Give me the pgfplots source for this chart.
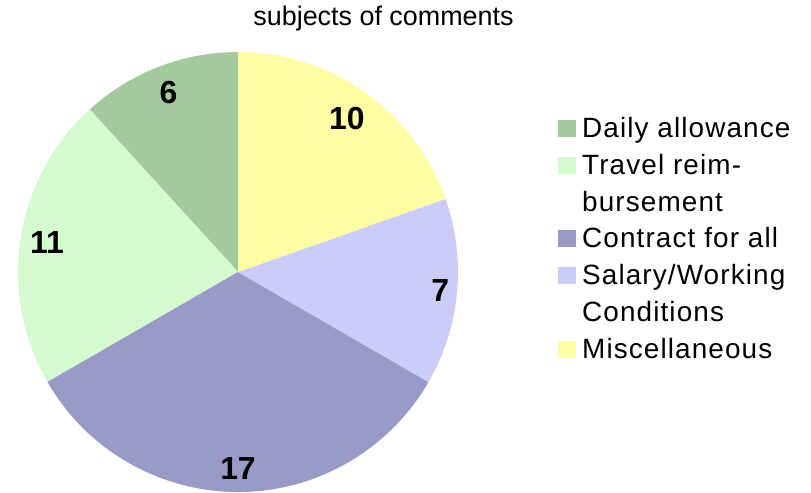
\documentclass[border=0pt]{standalone}
\usepackage{pgfplots}
\pgfplotsset{compat=1.18}
\usepackage{fontspec}
\setmainfont{Liberation Sans}
\newfontfamily\legfont[LetterSpace=4]{Liberation Sans}
\definecolor{cDaily}{RGB}{166,202,160}
\definecolor{cTravel}{RGB}{213,250,208}
\definecolor{cContract}{RGB}{154,154,198}
\definecolor{cSalary}{RGB}{204,204,248}
\definecolor{cMisc}{RGB}{255,252,166}
% values: Daily 6, Travel 11, Contract 17, Salary 7, Misc 10 (total 51)
% #1 name, #2 cumulative count before this slice, #3 value, #4 label radius
\newcommand\prep[4]{%
  \pgfmathsetmacro\tmpa{90+(#2)/51*360}%
  \pgfmathsetmacro\tmpb{90+(#2+#3)/51*360}%
  \pgfmathsetmacro\tmpm{(\tmpa+\tmpb)/2}%
  \expandafter\let\csname sa#1\endcsname\tmpa
  \expandafter\let\csname sb#1\endcsname\tmpb
  \expandafter\let\csname sm#1\endcsname\tmpm
  \expandafter\def\csname sr#1\endcsname{#4}%
  \expandafter\def\csname sv#1\endcsname{#3}}
\prep{A}{0}{6}{0.875}
\prep{B}{6}{11}{0.879}
\prep{C}{17}{17}{0.895}
\prep{D}{34}{7}{0.923}
\prep{E}{41}{10}{0.856}
\newcommand\slice[2]{%
  \edef\doslice{\noexpand\fill[#2] (axis cs:0,0) -- (axis cs:{cos(\csname sa#1\endcsname)},{sin(\csname sa#1\endcsname)})
      arc[start angle=\csname sa#1\endcsname, end angle=\csname sb#1\endcsname, radius=220bp] -- cycle;
    \noexpand\node[font=\noexpand\fontsize{32}{32}\noexpand\selectfont\noexpand\bfseries]
      at (axis cs:{\csname sr#1\endcsname*cos(\csname sm#1\endcsname)},{\csname sr#1\endcsname*sin(\csname sm#1\endcsname)}) {\csname sv#1\endcsname};}%
  \doslice}
% legend entry: #1 colour, #2 baseline (px from top), #3 text
\newcommand\legkey[3]{%
  \fill[#1] (558bp,{(493-#2)*1bp}) rectangle (576bp,{(510-#2)*1bp});
  \node[anchor=base west, inner sep=0pt, font=\legfont\fontsize{28}{28}\selectfont]
    at (582bp,{(493-#2)*1bp}) {#3};}
\newcommand\legline[2]{%
  \node[anchor=base west, inner sep=0pt, font=\legfont\fontsize{28}{28}\selectfont]
    at (582bp,{(493-#1)*1bp}) {#2};}
\begin{document}
\begin{tikzpicture}
\useasboundingbox (0,0) rectangle (811bp,493bp);
\begin{axis}[
  at={(238bp,221bp)}, anchor=center,
  x=220bp, y=220bp, xmin=-1, xmax=1, ymin=-1, ymax=1,
  hide axis, clip=false,
]
\slice{A}{cDaily}
\slice{B}{cTravel}
\slice{C}{cContract}
\slice{D}{cSalary}
\slice{E}{cMisc}
\end{axis}
\legkey{cDaily}{137}{Daily allowance}
\legkey{cTravel}{174.5}{Travel reim-}
\legline{211}{bursement}
\legkey{cContract}{247}{Contract for all}
\legkey{cSalary}{284}{Salary/Working}
\legline{321}{Conditions}
\legkey{cMisc}{358}{Miscellaneous}
\node[anchor=base, font=\fontsize{27}{27}\selectfont] at (383.5bp,467bp) {subjects of comments};
\end{tikzpicture}
\end{document}
